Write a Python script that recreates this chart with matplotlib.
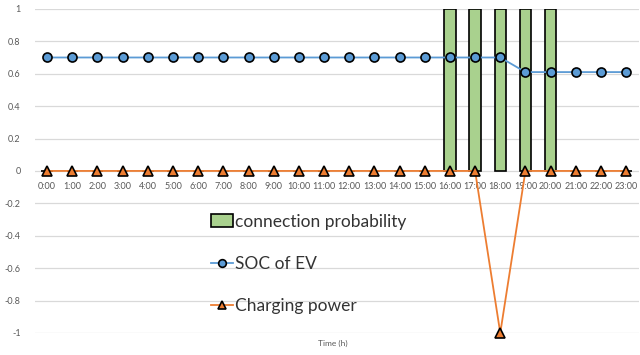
import numpy as np
import matplotlib
matplotlib.use("Agg")
import matplotlib.pyplot as plt

plt.rcParams['font.family'] = ['Lato', 'DejaVu Sans']

hours = [f"{h}:00" for h in range(24)]
connection = [0]*16 + [1, 1, 1, 1, 1] + [0, 0, 0]
soc = [0.7]*19 + [0.61]*5
charging = [0]*18 + [-1] + [0]*5

x = np.arange(len(hours))

fig = plt.figure(figsize=(6.4, 3.55), dpi=100)
ax = fig.add_axes([0.054, 0.062, 0.944, 0.913])

bars = ax.bar(x, connection, width=0.45, color='#A9D18E', edgecolor='black',
              linewidth=1.2, label='connection probability', zorder=2)
l_soc, = ax.plot(x, soc, color='#5B9BD5', lw=1.3, marker='o', markersize=6.5,
                 markerfacecolor='#5B9BD5', markeredgecolor='black', markeredgewidth=1.2,
                 label='SOC of EV', zorder=3, clip_on=False)
l_chg, = ax.plot(x, charging, color='#ED7D31', lw=1.3, marker='^', markersize=7,
                 markerfacecolor='#ED7D31', markeredgecolor='black', markeredgewidth=1.2,
                 label='Charging power', zorder=3, clip_on=False)

ax.set_xlim(-0.5, 23.5)
ax.set_ylim(-1, 1)
yt = [1, 0.8, 0.6, 0.4, 0.2, 0, -0.2, -0.4, -0.6, -0.8, -1]
ax.set_yticks(yt)
ax.set_yticklabels([f"{v:g}" for v in yt])
ax.set_xticks(x)
ax.set_xticklabels(hours)
ax.tick_params(axis='both', length=0, labelsize=6.5, colors='#595959')
ax.tick_params(axis='y', pad=10)
ax.tick_params(axis='x', pad=8)
ax.spines['bottom'].set_position(('data', 0))
for s in ax.spines.values():
    s.set_visible(False)
ax.grid(axis='y', color='#D9D9D9', lw=0.9, zorder=0)
ax.set_axisbelow(True)

fig.text(0.52, 0.033, 'Time (h)', ha='center', va='center', fontsize=6, color='#595959')

leg = ax.legend([bars, l_soc, l_chg],
                ['connection probability', 'SOC of EV', 'Charging power'],
                loc='upper left', bbox_to_anchor=(0.28, 0.39), frameon=False,
                fontsize=12.5, labelspacing=1.52, handlelength=1.3, handletextpad=0.1,
                borderaxespad=0, markerscale=0.85)
for t in leg.get_texts():
    t.set_color('#333333')

fig.savefig('out.png', dpi=100)
